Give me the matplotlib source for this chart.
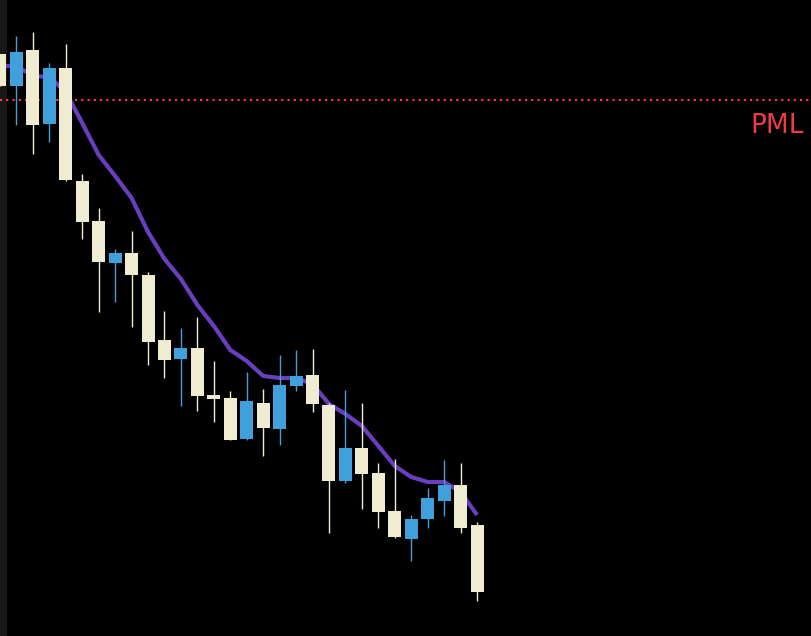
import matplotlib
matplotlib.use("Agg")
import matplotlib.pyplot as plt
import numpy as np

# candle values (screen units, larger = lower price)
opens  = [54, 86, 50, 124, 68, 181, 221, 263, 253, 275, 340, 359, 348, 395, 398, 439, 403, 429, 386, 375,
          405, 481, 448, 473, 511, 539, 519, 501, 485, 525]
closes = [86, 52, 125, 68, 180, 222, 262, 253, 275, 342, 360, 348, 396, 399, 440, 401, 428, 385, 376, 404,
          481, 448, 474, 512, 537, 519, 498, 485, 528, 592]
highs  = [54, 36, 32, 63, 44, 174, 208, 249, 231, 272, 311, 328, 317, 361, 391, 372, 389, 355, 350, 349,
          403, 390, 403, 463, 459, 515, 488, 460, 463, 522]
lows   = [86, 125, 154, 142, 181, 239, 312, 302, 327, 365, 378, 406, 411, 422, 440, 440, 456, 445, 391, 412,
          533, 483, 509, 528, 538, 561, 528, 516, 533, 601]
ma     = [66, 66, 76, 77, 92, 123, 155, 176, 198, 232, 259, 279, 305, 326, 350, 361, 376, 378, 378, 384,
          404, 414, 426, 446, 466, 477, 482, 482, 492, 515]
pml_level = 100
pml_label = "PML"

CREAM = "#f0ecd2"
BLUE = "#40a0dc"
STEP = 16.45  # pixels per candle

fig = plt.figure(figsize=(8.12, 6.36), dpi=100, facecolor="black")
ax = fig.add_axes([0, 0, 1, 1])
ax.set_facecolor("black")
ax.set_xlim(0, 812 / STEP)
ax.set_ylim(636, 0)
ax.axis("off")

# left strip
ax.axvspan(0, 7 / STEP, color="#181818", zorder=0, lw=0)

x = np.arange(len(opens))
o = np.array(opens); c = np.array(closes)
colors = [BLUE if cc < oo else CREAM for oo, cc in zip(opens, closes)]

ax.axhline(pml_level, color="#ff3b4a", lw=1.5, ls=(0, (1, 2)), zorder=1)
ax.plot(x, ma, color="#6a3fbf", lw=3, zorder=2, solid_capstyle="butt")

ax.vlines(x, highs, lows, colors=colors, lw=1, zorder=3)
ax.bar(x, np.maximum(np.abs(c - o), 1), bottom=np.minimum(o, c), width=13 / STEP,
       color=colors, lw=0, zorder=4)

ax.text(804 / STEP, 133, pml_label, color="#f03a4a", fontsize=19,
        ha="right", va="baseline", zorder=5)

fig.savefig("out.png", dpi=100, facecolor="black")
